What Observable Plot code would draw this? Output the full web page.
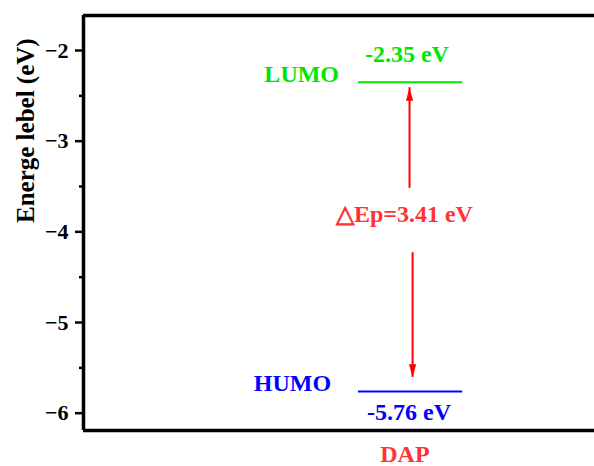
<!DOCTYPE html>
<html>
<head>
<meta charset="utf-8">
<script src="https://cdn.jsdelivr.net/npm/d3@7"></script>
<script src="https://cdn.jsdelivr.net/npm/@observablehq/plot@0.6"></script>
<style>
  html, body { margin: 0; padding: 0; background: #fff; }
</style>
</head>
<body>
<div id="chart"></div>
<script>
// ---- data ----
const levelNames = ["LUMO", "HUMO"];
const levelEnergies = [-2.35, -5.76];
const levelColors = ["#00e600", "#0000ff"];
const category = "DAP";
const yTicks = [-6, -5, -4, -3, -2];
const yMinorTicks = [-5.5, -4.5, -3.5, -2.5];
const arrowFrom = [-3.52, -4.23];   // shaft start (eV)
const arrowTo = [-2.41, -5.605];    // arrow tip (eV)
const yLabel = "Energe lebel (eV)";

// ---- layout (x positions in [0,1] of the frame) ----
const yDomain = [-6.191, -1.614];
const xLevel1 = 0.538, xLevel2 = 0.742;
const xArrows = [0.638, 0.644];
const xNames = [0.427, 0.409];
const xValues = [0.633, 0.637];
const xCategory = 0.629;
const xGap = 0.628;

const font = "'Liberation Serif', 'Times New Roman', serif";
const red = "#ff0000";
const redText = "#ff3333";

const levels = levelNames.map((n, i) => ({name: n, e: levelEnergies[i], color: levelColors[i]}));
const gap = levelEnergies[0] - levelEnergies[1];
const arrows = arrowFrom.map((f, i) => ({x: xArrows[i], from: f, to: arrowTo[i], up: arrowTo[i] > f}));

const headUp = {draw(c) { c.moveTo(0, 0); c.lineTo(3.6, 13); c.lineTo(-3.6, 13); c.closePath(); }};
const headDown = {draw(c) { c.moveTo(0, 0); c.lineTo(3.6, -13); c.lineTo(-3.6, -13); c.closePath(); }};

const txt = {fontFamily: font, fontWeight: "bold", fontSize: 24, lineAnchor: "bottom", textAnchor: "middle"};

const chart = Plot.plot({
  width: 594,
  height: 466,
  marginLeft: 83,
  marginRight: 0,
  marginTop: 15,
  marginBottom: 36,
  style: {fontFamily: font, background: "#fff"},
  x: {domain: [0, 1], axis: null},
  y: {domain: yDomain, axis: null},
  marks: [
    // frame (left, top, bottom; right edge lies beyond the picture)
    Plot.ruleX([0], {stroke: "#000", strokeWidth: 3.5}),
    Plot.ruleY(yDomain, {stroke: "#000", strokeWidth: 3.5, x1: 0, x2: 1.02}),
    // y axis ticks
    Plot.axisY({ticks: yTicks, tickSize: 8, strokeWidth: 2.5, label: null, tickFormat: () => ""}),
    Plot.axisY({ticks: yMinorTicks, tickSize: 4, strokeWidth: 2.5, label: null, tickFormat: () => ""}),
    // y tick labels
    Plot.text(yTicks, {y: d => d, frameAnchor: "left", dx: -15, textAnchor: "end",
      text: d => "\u2212" + Math.abs(d), fontSize: 22, fontWeight: "bold", fontFamily: font, fill: "#000"}),
    Plot.text([yLabel], {frameAnchor: "left", rotate: -90, dx: -58, fontSize: 25, fontWeight: "bold", fontFamily: font, fill: "#000"}),
    // x axis category
    Plot.axisX({ticks: [xCategory], tickSize: 0, tickPadding: 14, label: null, tickFormat: () => category,
      fontSize: 24, fontWeight: "bold", fontFamily: font, fill: redText}),
    // energy levels
    Plot.ruleY(levels, {y: "e", x1: xLevel1, x2: xLevel2, stroke: "color", strokeWidth: 2}),
    // level names
    Plot.text(levels, {...txt, x: (d, i) => xNames[i], y: "e", text: "name", fill: "color"}),
    // arrows
    Plot.ruleX(arrows, {x: "x", y1: "from", y2: "to", stroke: red, strokeWidth: 2}),
    Plot.dot(arrows, {x: "x", y: "to", symbol: d => d.up ? headUp : headDown, fill: red, stroke: "none", r: 5}),
    // value labels
    Plot.text([levels[0]], {...txt, x: xValues[0], y: "e", dy: -20, text: d => `${d.e.toFixed(2)} eV`, fill: "color"}),
    Plot.text([levels[1]], {...txt, x: xValues[1], y: "e", dy: 29, text: d => `${d.e.toFixed(2)} eV`, fill: "color"}),
    Plot.text([gap], {...txt, x: xGap, y: (levelEnergies[0] + levelEnergies[1]) / 2, dy: -15,
      text: d => `\u25B3Ep=${d.toFixed(2)} eV`, fill: redText})
  ]
});
document.getElementById("chart").appendChild(chart);
</script>
</body>
</html>
